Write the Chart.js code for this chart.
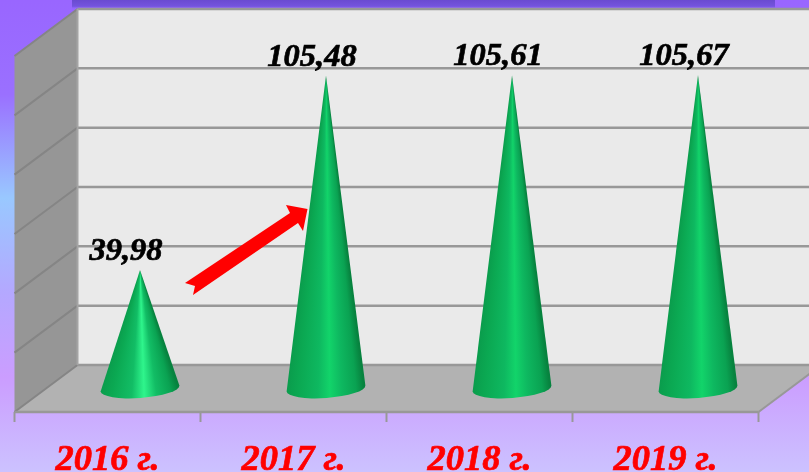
<!DOCTYPE html>
<html>
<head>
<meta charset="utf-8">
<style>
html,body{margin:0;padding:0;width:809px;height:472px;overflow:hidden;background:#b9a0ff}
canvas{display:block}
</style>
<script src="https://cdn.jsdelivr.net/npm/chart.js@4"></script>
</head>
<body>
<canvas id="c" width="809" height="472"></canvas>
<script>
const categories = ["2016 г.", "2017 г.", "2018 г.", "2019 г."];
const values = [39.98, 105.48, 105.61, 105.67];
const valueLabels = ["39,98", "105,48", "105,61", "105,67"];
const axisMin = 0, axisMax = 120, axisStep = 20;

const DEPTH_X = 31.5, DEPTH_Y = 23.5;
const GRID = "#989898";
const SIDE_GRID = "#858585";

function poly(ctx, pts, fill) {
  ctx.beginPath();
  pts.forEach((p, i) => i ? ctx.lineTo(p[0], p[1]) : ctx.moveTo(p[0], p[1]));
  ctx.closePath();
  ctx.fillStyle = fill;
  ctx.fill();
}
function seg(ctx, x1, y1, x2, y2, color, w) {
  ctx.beginPath();
  ctx.moveTo(x1, y1);
  ctx.lineTo(x2, y2);
  ctx.strokeStyle = color;
  ctx.lineWidth = w;
  ctx.stroke();
}

const stage = {
  id: "stage",
  beforeDraw(chart) {
    const ctx = chart.ctx, W = chart.width, H = chart.height;
    ctx.save();
    const bg = ctx.createLinearGradient(0, 0, 0, H);
    bg.addColorStop(0, "#9966ff");
    bg.addColorStop(0.2, "#9a70ff");
    bg.addColorStop(0.42, "#99c8ff");
    bg.addColorStop(0.62, "#b4a8ff");
    bg.addColorStop(0.8, "#cb9dff");
    bg.addColorStop(1, "#ccc2ff");
    ctx.fillStyle = bg;
    ctx.fillRect(0, 0, W, H);
    const bar = ctx.createLinearGradient(0, 0, 0, 9);
    bar.addColorStop(0, "#6a4bd0");
    bar.addColorStop(0.7, "#7454de");
    bar.addColorStop(1, "rgba(140,100,250,0)");
    ctx.fillStyle = bar;
    ctx.fillRect(72, 0, 703, 9);
    ctx.restore();
  },
  beforeDatasetsDraw(chart) {
    const ctx = chart.ctx, a = chart.chartArea;
    const y = chart.scales.y;
    const bl = a.left + DEPTH_X, fl = a.left - DEPTH_X;
    const br = a.right + DEPTH_X, fr = a.right - DEPTH_X;
    const zero = y.getPixelForValue(axisMin), top = y.getPixelForValue(axisMax);
    const by = zero - DEPTH_Y, fy = zero + DEPTH_Y;
    const bt = top - DEPTH_Y, ft = top + DEPTH_Y;
    ctx.save();
    poly(ctx, [[bl, bt], [br, bt], [br, by], [bl, by]], "#eaeaea");
    poly(ctx, [[fl, ft], [bl, bt], [bl, by], [fl, fy]], "#969696");
    poly(ctx, [[bl, by], [br, by], [fr, fy], [fl, fy]], "#b2b2b2");
    y.ticks.forEach(t => {
      const p = y.getPixelForValue(t.value);
      seg(ctx, fl, p + DEPTH_Y, bl, p - DEPTH_Y, SIDE_GRID, 2);
      seg(ctx, bl, p - DEPTH_Y, br, p - DEPTH_Y, GRID, 2.5);
    });
    seg(ctx, bl, bt, bl, by, "#a4a4a4", 2);
    seg(ctx, fl, fy, fr, fy, GRID, 2.5);
    seg(ctx, fr, fy, br, by, GRID, 2);
    for (let i = 0; i <= categories.length; i++) {
      const tx = fl + (a.right - a.left) * i / categories.length;
      seg(ctx, tx, fy, tx, fy + 10, GRID, 2);
    }
    ctx.restore();
  },
  afterDatasetsDraw(chart) {
    const ctx = chart.ctx;
    const meta = chart.getDatasetMeta(0);
    ctx.save();
    meta.data.forEach((el, i) => {
      const cx = el.x + 1, tip = el.y, base = el.base;
      const rx = 39.5, ry = 9.5, tilt = -0.075;
      const h = base - tip;
      const glow = values[i] < 60 ? "#2ff58c" : "#12d46a";
      const mid = values[i] < 60 ? "#12bd65" : "#0eb860";
      const ang = s => Math.atan2(h, rx - 2 * rx * s);
      const start = ang(0) - 0.08;
      const g = ctx.createConicGradient(start, cx, tip);
      const at = s => (ang(s) - start) / (2 * Math.PI);
      g.addColorStop(0, "#067a3b");
      g.addColorStop(at(0.02), "#07833f");
      g.addColorStop(at(0.12), "#0aa252");
      g.addColorStop(at(0.3), mid);
      g.addColorStop(at(0.45), glow);
      g.addColorStop(at(0.6), mid);
      g.addColorStop(at(0.85), "#0ba852");
      g.addColorStop(at(1), "#0a9c4c");
      g.addColorStop(Math.min(at(1) + 0.02, 1), "#0a9c4c");
      ctx.beginPath();
      ctx.moveTo(cx, tip);
      ctx.lineTo(cx + rx * Math.cos(tilt), base + rx * Math.sin(tilt));
      ctx.ellipse(cx, base, rx, ry, tilt, 0, Math.PI, false);
      ctx.closePath();
      ctx.fillStyle = g;
      ctx.fill();

      ctx.fillStyle = "#000";
      ctx.strokeStyle = "#000";
      ctx.lineWidth = 0.7;
      ctx.font = "italic bold 32.5px 'Liberation Serif'";
      ctx.textAlign = "center";
      ctx.textBaseline = "alphabetic";
      ctx.fillText(valueLabels[i], el.x - 13, tip - 10);
      ctx.strokeText(valueLabels[i], el.x - 13, tip - 10);
    });
    poly(ctx, [[185, 283], [290, 213], [286, 205], [307.5, 209], [303, 231], [298, 223], [193, 295], [195, 286]], "#ff0000");
    ctx.restore();
  }
};

new Chart(document.getElementById("c"), {
  type: "bar",
  data: {
    labels: categories,
    datasets: [{ data: values, backgroundColor: "rgba(0,0,0,0)", borderWidth: 0 }]
  },
  options: {
    responsive: false,
    animation: false,
    events: [],
    layout: { padding: { left: 46, right: 19, top: 32.5, bottom: 0 } },
    plugins: { legend: { display: false }, tooltip: { enabled: false }, title: { display: false } },
    scales: {
      x: {
        afterFit(s) { s.height = 83.5; },
        grid: { display: false },
        border: { display: false },
        ticks: {
          color: "#ff0000",
          textStrokeColor: "#ff0000",
          textStrokeWidth: 0.7,
          font: { family: "'Liberation Serif'", size: 36.5, weight: "bold", style: "italic" },
          labelOffset: -DEPTH_X,
          padding: 42,
          maxRotation: 0,
          autoSkip: false
        }
      },
      y: {
        min: axisMin,
        max: axisMax,
        afterFit(s) { s.width = 0; },
        grid: { display: false },
        border: { display: false },
        ticks: { display: false, stepSize: axisStep }
      }
    }
  },
  plugins: [stage]
});
</script>
</body>
</html>
